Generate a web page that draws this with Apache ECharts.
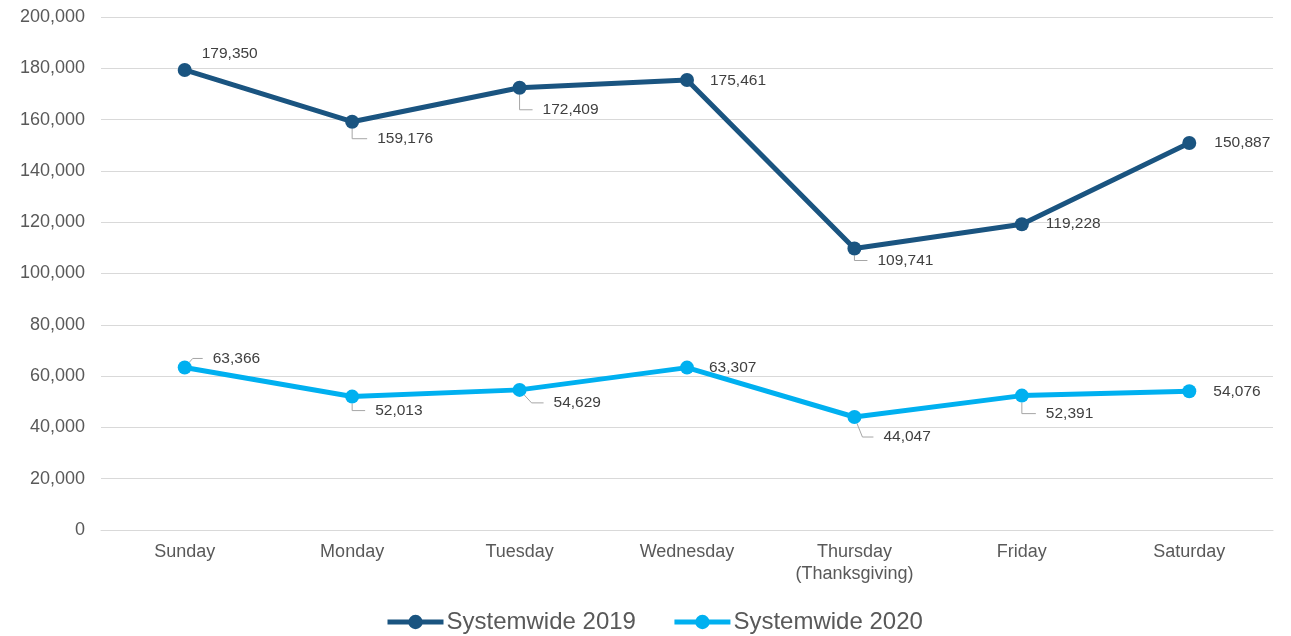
<!DOCTYPE html>
<html>
<head>
<meta charset="utf-8">
<script src="https://cdn.jsdelivr.net/npm/echarts@6/dist/echarts.min.js"></script>
<style>
html,body{margin:0;padding:0;background:#fff;}
#chart{width:1291px;height:636px;}
</style>
</head>
<body>
<div id="chart"></div>
<script>
const categories = ['Sunday', 'Monday', 'Tuesday', 'Wednesday', 'Thursday\n(Thanksgiving)', 'Friday', 'Saturday'];
const seriesNames = ['Systemwide 2019', 'Systemwide 2020'];
const values2019 = [179350, 159176, 172409, 175461, 109741, 119228, 150887];
const values2020 = [63366, 52013, 54629, 63307, 44047, 52391, 54076];
const yMin = 0, yMax = 200000, yStep = 20000;

// label placement: [text left offset, vertical offset, leader horizontal length (0 = no leader)]
const place2019 = [[17, -16, 0], [25, 17, 15], [23, 22, 13], [23, 1, 0], [23, 12, 13], [24, 0, 0], [25, 0, 0]];
const place2020 = [[28, -9, 10], [23, 14, 13], [34, 13, 12], [22, 0, 0], [29, 20, 11], [24, 18, 14], [24, 0, 0]];

const FONT = "'Liberation Sans', Arial, sans-serif";
const PAD = 10;
const fmt = v => Number(v).toLocaleString('en-US');

function buildData(values, place) {
  return values.map((v, i) => {
    const p = place[i];
    const box = p[0] - PAD;
    return {
      value: v,
      label: { offset: [box, p[1]] },
      labelLine: { show: p[2] > 0, length2: p[2] }
    };
  });
}

const labelBase = {
  show: true,
  position: 'inside',
  align: 'left',
  verticalAlign: 'middle',
  fontFamily: FONT,
  fontSize: 15.5,
  color: '#404040',
  padding: [2, 0, 2, PAD],
  backgroundColor: 'rgba(255,255,255,0)',
  formatter: p => fmt(p.value)
};
const lineBase = { lineStyle: { color: '#a6a6a6', width: 1 }, smooth: false };

const chart = echarts.init(document.getElementById('chart'), null, { renderer: 'canvas' });
chart.setOption({
  animation: false,
  textStyle: { fontFamily: FONT },
  grid: { left: 101, right: 18, top: 17, bottom: 106 },
  legend: {
    left: 380,
    top: 605,
    itemWidth: 56,
    itemHeight: 18,
    itemGap: 36,
    lineStyle: { width: 5 },
    textStyle: { fontSize: 24, color: '#595959', fontFamily: FONT, padding: [0, 0, 0, -2] },
    data: seriesNames
  },
  xAxis: {
    type: 'category',
    data: categories,
    boundaryGap: true,
    axisLine: { lineStyle: { color: '#d9d9d9', width: 1 } },
    axisTick: { show: false },
    axisLabel: { fontSize: 18, color: '#595959', margin: 11, lineHeight: 22, fontFamily: FONT, interval: 0 }
  },
  yAxis: {
    type: 'value',
    min: yMin, max: yMax, interval: yStep,
    axisLine: { show: false },
    axisTick: { show: false },
    splitLine: { lineStyle: { color: '#d9d9d9', width: 1 } },
    axisLabel: { fontSize: 18, color: '#595959', margin: 16, fontFamily: FONT, formatter: v => fmt(v) }
  },
  series: [
    {
      name: seriesNames[0],
      type: 'line',
      data: buildData(values2019, place2019),
      symbol: 'circle',
      symbolSize: 14,
      color: '#1a5480',
      lineStyle: { width: 5, color: '#1a5480' },
      itemStyle: { color: '#1a5480' },
      label: labelBase,
      labelLine: lineBase,
      z: 3
    },
    {
      name: seriesNames[1],
      type: 'line',
      data: buildData(values2020, place2020),
      symbol: 'circle',
      symbolSize: 14,
      color: '#00b0f0',
      lineStyle: { width: 5, color: '#00b0f0' },
      itemStyle: { color: '#00b0f0' },
      label: labelBase,
      labelLine: lineBase,
      z: 2
    }
  ]
});
</script>
</body>
</html>
